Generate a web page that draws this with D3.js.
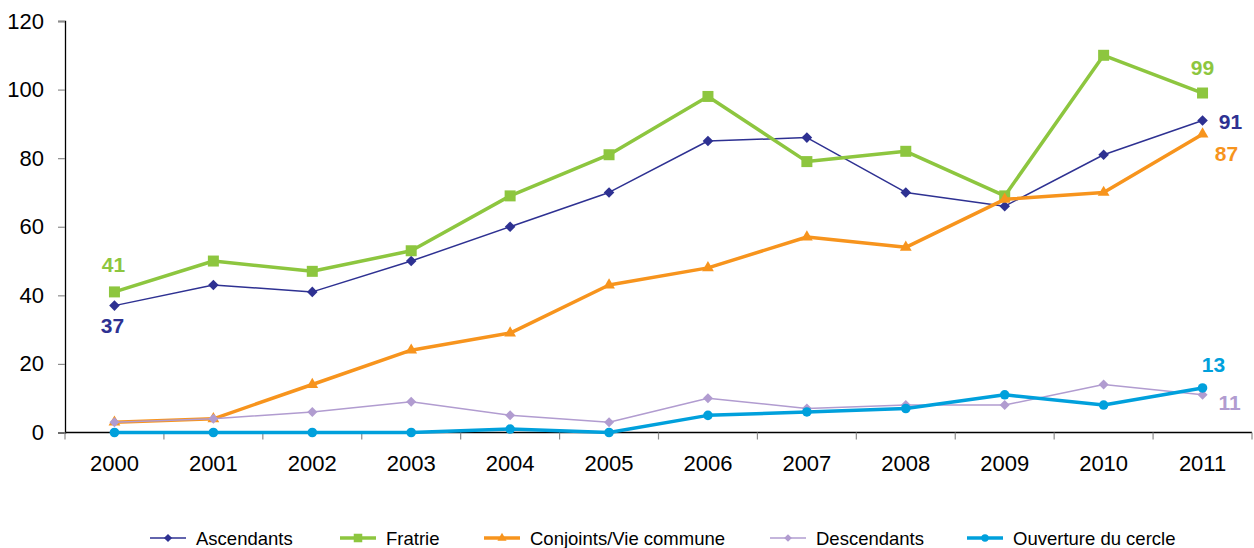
<!DOCTYPE html>
<html>
<head>
<meta charset="utf-8">
<script src="https://cdn.jsdelivr.net/npm/d3@7"></script>
<style>
  html, body { margin: 0; padding: 0; background: #fff; }
  svg { display: block; font-family: "Liberation Sans", Arial, sans-serif; }
</style>
</head>
<body>
<svg id="chart" width="1254" height="548"></svg>
<script>
// Years on the category axis
const years = ["2000","2001","2002","2003","2004","2005","2006","2007","2008","2009","2010","2011"];
const yTicks = [0, 20, 40, 60, 80, 100, 120];

// Series values, one per year
const ascendants  = [37, 43, 41, 50, 60, 70, 85, 86, 70, 66, 81, 91];
const fratrie     = [41, 50, 47, 53, 69, 81, 98, 79, 82, 69, 110, 99];
const conjoints   = [3, 4, 14, 24, 29, 43, 48, 57, 54, 68, 70, 87];
const descendants = [3, 4, 6, 9, 5, 3, 10, 7, 8, 8, 14, 11];
const ouverture   = [0, 0, 0, 0, 1, 0, 5, 6, 7, 11, 8, 13];

const seriesNames = ["Ascendants", "Fratrie", "Conjoints/Vie commune", "Descendants", "Ouverture du cercle"];

// Equal-sided diamond marker (d3's built-in diamond is tall)
const symbolRhombus = {
  draw(context, size) {
    const r = Math.sqrt(size / 2);
    context.moveTo(0, -r);
    context.lineTo(r, 0);
    context.lineTo(0, r);
    context.lineTo(-r, 0);
    context.closePath();
  }
};

const series = [
  { name: seriesNames[0], values: ascendants,  color: "#2E3192", width: 1.5, symbol: symbolRhombus,    size: 56,  labels: [{ i: 0, dx: -2, dy: 27 }, { i: 11, dx: 28, dy: 9 }] },
  { name: seriesNames[1], values: fratrie,     color: "#8DC63F", width: 3.5, symbol: d3.symbolSquare,  size: 121, labels: [{ i: 0, dx: -1, dy: -20 }, { i: 11, dx: 0, dy: -18 }] },
  { name: seriesNames[2], values: conjoints,   color: "#F7941D", width: 3.5, symbol: d3.symbolTriangle, size: 60, labels: [{ i: 11, dx: 24, dy: 27 }] },
  { name: seriesNames[3], values: descendants, color: "#B19CD0", width: 1.5, symbol: symbolRhombus,    size: 50,  labels: [{ i: 11, dx: 27, dy: 15 }] },
  { name: seriesNames[4], values: ouverture,   color: "#00A0DC", width: 3.5, symbol: d3.symbolCircle,  size: 72,  labels: [{ i: 11, dx: 11, dy: -16 }] }
];

const svg = d3.select("#chart");
const plot = { left: 65, right: 1252, top: 21, bottom: 432.5 };

const x = d3.scaleBand().domain(years).range([plot.left, plot.right]).paddingInner(0).paddingOuter(0);
const y = d3.scaleLinear().domain([0, 120]).range([plot.bottom, plot.top]);
const cx = d => x(d) + x.bandwidth() / 2;

// Y axis
const yAxis = svg.append("g")
  .attr("transform", `translate(${plot.left},0)`)
  .call(d3.axisLeft(y).tickValues(yTicks).tickSize(7).tickPadding(14));
yAxis.select(".domain").attr("stroke", "#000").attr("stroke-width", 1.3);
yAxis.selectAll(".tick line").attr("stroke", "#8c8c8c").attr("stroke-width", 1.2);
yAxis.selectAll(".tick text").attr("font-size", 22).attr("fill", "#000")
  .attr("font-family", "Liberation Sans, Arial, sans-serif");

// X axis: ticks sit on the category boundaries
const boundaries = years.map(d => x(d)).concat([plot.right]);
const xAxisG = svg.append("g");
xAxisG.append("line")
  .attr("x1", plot.left).attr("x2", plot.right)
  .attr("y1", plot.bottom).attr("y2", plot.bottom)
  .attr("stroke", "#000").attr("stroke-width", 1.3);
xAxisG.selectAll("line.tick").data(boundaries).join("line")
  .attr("class", "tick")
  .attr("x1", d => d).attr("x2", d => d)
  .attr("y1", plot.bottom).attr("y2", plot.bottom + 7)
  .attr("stroke", "#8c8c8c").attr("stroke-width", 1.2);
xAxisG.selectAll("text").data(years).join("text")
  .attr("x", d => cx(d))
  .attr("y", plot.bottom + 38)
  .attr("text-anchor", "middle")
  .attr("font-size", 22)
  .attr("fill", "#000")
  .text(d => d);

// Lines and markers
const line = d3.line().x((v, i) => cx(years[i])).y(v => y(v));

const layer = svg.append("g");
series.forEach(s => {
  const g = layer.append("g");
  g.append("path")
    .datum(s.values)
    .attr("d", line)
    .attr("fill", "none")
    .attr("stroke", s.color)
    .attr("stroke-width", s.width)
    .attr("stroke-linejoin", "round");
  const sym = d3.symbol().type(s.symbol).size(s.size);
  g.selectAll("path.mk").data(s.values).join("path")
    .attr("class", "mk")
    .attr("d", sym)
    .attr("transform", (v, i) => `translate(${cx(years[i])},${y(v)})`)
    .attr("fill", s.color);
});

// Value labels at the ends of the series
const labelLayer = svg.append("g");
series.forEach(s => {
  s.labels.forEach(l => {
    labelLayer.append("text")
      .attr("x", cx(years[l.i]) + l.dx)
      .attr("y", y(s.values[l.i]) + l.dy)
      .attr("text-anchor", "middle")
      .attr("font-size", 21)
      .attr("font-weight", "bold")
      .attr("fill", s.color)
      .text(s.values[l.i]);
  });
});

// Legend
const legendX = [150, 340, 484, 770, 967];
const legend = svg.append("g").attr("transform", "translate(0,538)");
series.forEach((s, k) => {
  const g = legend.append("g").attr("transform", `translate(${legendX[k]},0)`);
  g.append("line")
    .attr("x1", 0).attr("x2", 36).attr("y1", 0).attr("y2", 0)
    .attr("stroke", s.color).attr("stroke-width", s.width);
  g.append("path")
    .attr("d", d3.symbol().type(s.symbol).size(s.size * 0.6))
    .attr("transform", "translate(18,0)")
    .attr("fill", s.color);
  g.append("text")
    .attr("x", 46).attr("y", 6.5)
    .attr("font-size", 18.5)
    .attr("fill", "#000")
    .text(s.name);
});
</script>
</body>
</html>
